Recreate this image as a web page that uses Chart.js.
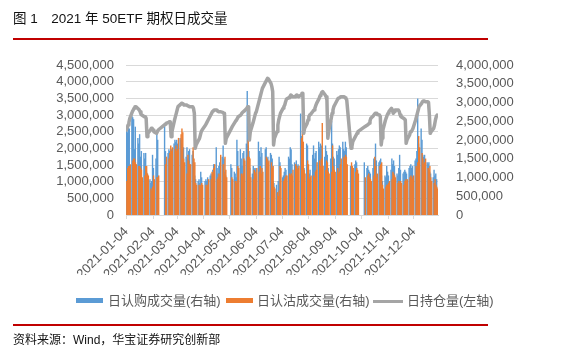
<!DOCTYPE html>
<html><head><meta charset="utf-8">
<script src="https://cdn.jsdelivr.net/npm/chart.js@4.4.0/dist/chart.umd.min.js"></script>
<style>
html,body{margin:0;padding:0;background:#fff;}
#wrap{position:relative;width:585px;height:359px;overflow:hidden;font-family:"Liberation Sans","Noto Sans CJK SC",sans-serif;}
#c{position:absolute;left:0;top:0;}
.title{position:absolute;left:13px;top:7px;font-size:13.5px;color:#111;white-space:pre;}
.rule{position:absolute;left:13px;width:475px;height:2px;background:#c00000;}
.src{position:absolute;left:13px;top:330px;font-size:12px;color:#111;white-space:pre;}
.lt{position:absolute;top:293px;font-size:13px;line-height:16px;color:#595959;white-space:nowrap;}
.sw{position:absolute;}
</style></head><body>
<div id="wrap">
<canvas id="c" width="585" height="359"></canvas>
<div class="title">图 1　2021 年 50ETF 期权日成交量</div>
<div class="rule" style="top:38px"></div>
<div class="rule" style="top:324px"></div>
<div class="src">资料来源：Wind，华宝证券研究创新部</div>
<div id="legend"></div>
</div>
<script>
// ---- data (volumes / open interest in thousands of contracts) ----
const UNIT = 1000;
const seriesNames = ['日认购成交量(右轴)', '日认沽成交量(右轴)', '日持仓量(左轴)'];
const tickLabels = ['2021-01-04','2021-02-04','2021-03-04','2021-04-04','2021-05-04','2021-06-04',
  '2021-07-04','2021-08-04','2021-09-04','2021-10-04','2021-11-04','2021-12-04'];
// trading days of 2021, per month (day of month)
const tradingDays = [
  [4,5,6,7,8,11,12,13,14,15,18,19,20,21,22,25,26,27,28,29],
  [1,2,3,4,5,8,9,10,18,19,22,23,24,25,26],
  [1,2,3,4,5,8,9,10,11,12,15,16,17,18,19,22,23,24,25,26,29,30,31],
  [1,2,6,7,8,9,12,13,14,15,16,19,20,21,22,23,26,27,28,29,30],
  [6,7,10,11,12,13,14,17,18,19,20,21,24,25,26,27,28,31],
  [1,2,3,4,7,8,9,10,11,15,16,17,18,21,22,23,24,25,28,29,30],
  [1,2,5,6,7,8,9,12,13,14,15,16,19,20,21,22,23,26,27,28,29,30],
  [2,3,4,5,6,9,10,11,12,13,16,17,18,19,20,23,24,25,26,27,30,31],
  [1,2,3,6,7,8,9,10,13,14,15,16,17,22,23,24,27,28,29,30],
  [8,11,12,13,14,15,18,19,20,21,22,25,26,27,28,29],
  [1,2,3,4,5,8,9,10,11,12,15,16,17,18,19,22,23,24,25,26,29,30],
  [1,2,3,6,7,8,9,10,13,14,15,16,17,20,21,22,23,24,27,28,29,30,31]
];
const callVolume = [
  1600,2250,2200,2400,2300,2650,2600,2550,1750,2350,2050,1900,2150,1550,1700,1650,1500,1650,1150,1100,
  950,850,900,1600,1250,1500,2250,2000,2400,1700,1650,1750,1700,1600,1750,
  1900,2000,1950,2000,1900,2050,2000,1900,1750,1800,1550,1800,1500,1700,1750,1600,1700,1300,1050,950,900,950,850,
  1150,1000,900,950,900,1000,1050,1100,1050,1200,1350,1800,1250,1100,1300,1400,1550,1850,1500,1150,1050,
  1350,1250,1150,1100,1000,2000,1700,1750,1500,1300,1650,1700,1900,3300,1850,1700,1250,1100,
  1300,1250,1200,1250,1950,1700,1550,1800,1650,1750,1800,1500,1550,1650,1600,1500,900,850,800,600,900,
  1550,1400,1000,1050,1150,1250,1200,1550,1500,1800,1750,1350,1400,1300,1450,1300,1350,2700,2100,2000,1450,1250,
  1900,1850,1050,1100,1200,1600,1850,1500,1650,1700,1950,1800,1900,1850,1600,1550,1850,1700,1600,1250,1500,2500,
  1900,1550,1500,1700,1600,1750,1850,1800,1950,1750,1700,1950,1800,1300,1250,1200,1350,1450,1400,1150,
  1400,1250,1300,1200,1150,1100,1250,1500,1400,1900,1450,1400,1450,1500,1050,900,
  1050,1000,1300,1150,1050,1200,1500,1350,1450,1300,1100,1050,1250,1600,1200,1100,1150,1200,1150,1100,1250,1300,
  1350,1250,1300,1450,1500,1700,3100,1900,2300,2000,1600,1550,1600,1400,1350,1400,1150,1100,1000,1200,1050,1100,950
];
const putVolume = [
  900,1250,1300,1300,1350,1450,1500,1500,1400,1350,1300,1300,1250,1200,1000,1050,1300,1300,1100,1050,
  700,650,750,1050,950,1000,1000,1050,1350,1550,1500,1650,1850,1700,1800,
  1750,1850,1700,1750,2050,2150,2300,2200,1500,1400,1100,1600,1450,1350,1350,1800,1500,1400,850,800,800,750,800,
  850,800,800,750,800,950,950,1150,1100,1250,1350,950,1000,1100,1050,1600,1350,1100,1550,1200,1000,
  1000,950,900,850,900,1300,1250,1100,1050,1100,1500,1450,1550,2000,1550,1500,1000,950,
  1200,1150,1100,1250,1150,1300,1100,1250,1150,1550,1500,1400,1450,1400,1250,1300,750,700,600,500,650,
  1300,1250,900,950,1000,1050,1050,1100,1050,1100,1050,1200,1350,1300,1200,1250,1300,2050,2250,1950,1200,1100,
  1450,1350,950,1000,1050,1050,1000,1150,1200,1400,1450,1300,1500,2450,1300,1200,1450,1400,1150,1100,1150,1850,
  1300,1200,1150,1250,1100,1150,1350,1500,1550,1500,1600,1550,1350,1400,1300,1250,1150,1250,1200,1100,
  1000,1050,1100,1000,950,900,1050,1550,1300,1000,1100,1300,1350,1400,800,700,
  750,800,800,850,900,950,1150,1100,1050,1000,850,900,850,900,850,800,900,950,900,950,1000,1050,
  1000,950,1050,1300,1250,1400,2100,1800,1650,1500,1350,1400,1500,1250,1200,1300,1000,900,850,950,800,750,700
];
const openInterest = [
  2550,2620,2700,2780,2900,3100,3150,3200,3250,3250,3180,3150,3100,3020,3000,2950,2950,2900,2350,2450,
  2550,2600,2600,2550,2500,2450,2500,2550,2720,2750,2780,2800,2800,2350,2500,
  2850,2950,3050,3150,3250,3320,3350,3350,3330,3300,3300,3280,3270,3250,3250,3250,3200,3050,2000,2100,2250,2300,2400,
  2500,2550,2700,2750,2800,2850,3000,3050,3100,3120,3150,3150,3120,3100,3100,3100,3080,3050,3050,2150,2300,
  2600,2650,2780,2820,2850,2900,2950,3000,3050,3080,3100,3120,3200,3250,3250,2250,2500,2750,
  2850,2950,3050,3100,3400,3500,3600,3700,3800,4000,4050,4100,4080,3950,3850,3700,2100,2300,2500,2700,2850,
  2950,3050,3200,3250,3300,3400,3480,3520,3550,3600,3580,3550,3550,3580,3600,3580,3550,3600,3650,3650,2450,2600,
  2750,2850,2950,3000,3020,3120,3150,3200,3280,3350,3500,3580,3620,3680,3700,3600,3550,3450,2300,2500,2900,3050,
  3150,3250,3300,3450,3500,3500,3520,3550,3550,3550,3520,3500,3450,2000,2050,2200,2350,2400,2450,2500,
  2650,2700,2720,2750,2820,2900,2980,3020,3050,3050,3020,3000,2950,2100,2300,2550,
  2850,2920,3000,3050,3100,3200,3150,3050,3100,3150,3150,3150,3100,3000,2950,2900,2880,2850,2150,2250,2400,2500,
  2500,2550,2600,2850,2950,3050,3150,3250,3350,3400,3420,3420,3400,3400,3380,3000,2450,2500,2600,2700,2850,2950,3000
];

// ---- build x positions (calendar day offset from 2021-01-04) ----
const DAY = 864e5, ORIGIN = Date.UTC(2021, 0, 4);
const dayX = [];
tradingDays.forEach((days, m) => days.forEach(d => dayX.push((Date.UTC(2021, m, d) - ORIGIN) / DAY)));
const tickDays = tickLabels.map(s => { const p = s.split('-').map(Number); return (Date.UTC(p[0], p[1]-1, p[2]) - ORIGIN) / DAY; });

const colors = ['#5B9BD5', '#ED7D31', '#A5A5A5'];
const FONT = "'Liberation Sans', Arial, sans-serif";
const GREY = '#595959';

// HTML legend
(function(){
  const L = document.getElementById('legend');
  const items = [
    {sw:[76,298,27,5], tx:108},
    {sw:[226,298,27,5], tx:257},
    {sw:[373,299.5,30,3], tx:407}
  ];
  items.forEach((it, i) => {
    const s = document.createElement('div'); s.className = 'sw';
    s.style.cssText = `left:${it.sw[0]}px;top:${it.sw[1]}px;width:${it.sw[2]}px;height:${it.sw[3]}px;background:${colors[i]}`;
    const t = document.createElement('div'); t.className = 'lt'; t.style.left = it.tx + 'px';
    t.textContent = seriesNames[i];
    L.appendChild(s); L.appendChild(t);
  });
})();

const barOrder = {
  id: 'barOrder',
  beforeDatasetsDraw(chart) {
    const a = chart.chartArea, c = chart.ctx;
    c.save(); c.beginPath(); c.rect(a.left, a.top, a.right - a.left, a.bottom - a.top); c.clip();
    [0, 1].forEach(i => chart.getDatasetMeta(i).controller.draw());
    c.restore();
  },
  beforeDatasetDraw(chart, args) { if (args.index < 2) return false; }
};

new Chart(document.getElementById('c'), {
  data: {
    datasets: [
      {type:'bar', label:seriesNames[0], yAxisID:'y1', backgroundColor:colors[0], barThickness:1, inflateAmount:0.2,
       data: dayX.map((x, i) => ({x, y: callVolume[i] * UNIT}))},
      {type:'bar', label:seriesNames[1], yAxisID:'y1', backgroundColor:colors[1], barThickness:1, inflateAmount:0.2,
       data: dayX.map((x, i) => ({x, y: putVolume[i] * UNIT}))},
      {type:'line', label:seriesNames[2], yAxisID:'y', borderColor:colors[2], borderWidth:3.5,
       pointRadius:0, tension:0, borderJoinStyle:'round', borderCapStyle:'round',
       data: dayX.map((x, i) => ({x, y: openInterest[i] * UNIT}))}
    ]
  },
  options: {
    responsive:false, animation:false, events:[],
    layout:{padding:{left:0, right:0, top:65, bottom:84}},
    plugins:{legend:{display:false}, tooltip:{enabled:false}},
    scales:{
      x:{type:'linear', min:-0.4, max:362, offset:false,
         afterBuildTicks: s => { s.ticks = tickDays.map(v => ({value:v})); },
         afterFit: s => { s.height = 60; },
         ticks:{autoSkip:false, minRotation:45, maxRotation:45, padding:5, color:GREY,
                font:{size:13, family:FONT}, callback:(v, i) => tickLabels[i]},
         grid:{offset:false, drawOnChartArea:false, drawTicks:true, tickLength:4, color:'#d9d9d9'},
         border:{display:true, color:'#d9d9d9'}},
      y:{position:'left', min:0, max:4500000,
         afterFit: s => { s.width = 126; },
         ticks:{stepSize:500000, autoSkip:false, padding:12, color:GREY, font:{size:13, family:FONT},
                callback: v => v.toLocaleString('en-US')},
         grid:{color:'#d9d9d9', drawTicks:false}, border:{display:false}},
      y1:{position:'right', min:0, max:4000000,
         afterFit: s => { s.width = 147; },
         ticks:{stepSize:500000, autoSkip:false, padding:10, color:GREY, font:{size:13, family:FONT},
                callback: v => v.toLocaleString('en-US')},
         grid:{display:false}, border:{display:false}}
    }
  },
  plugins:[barOrder]
});
</script>
</body></html>
